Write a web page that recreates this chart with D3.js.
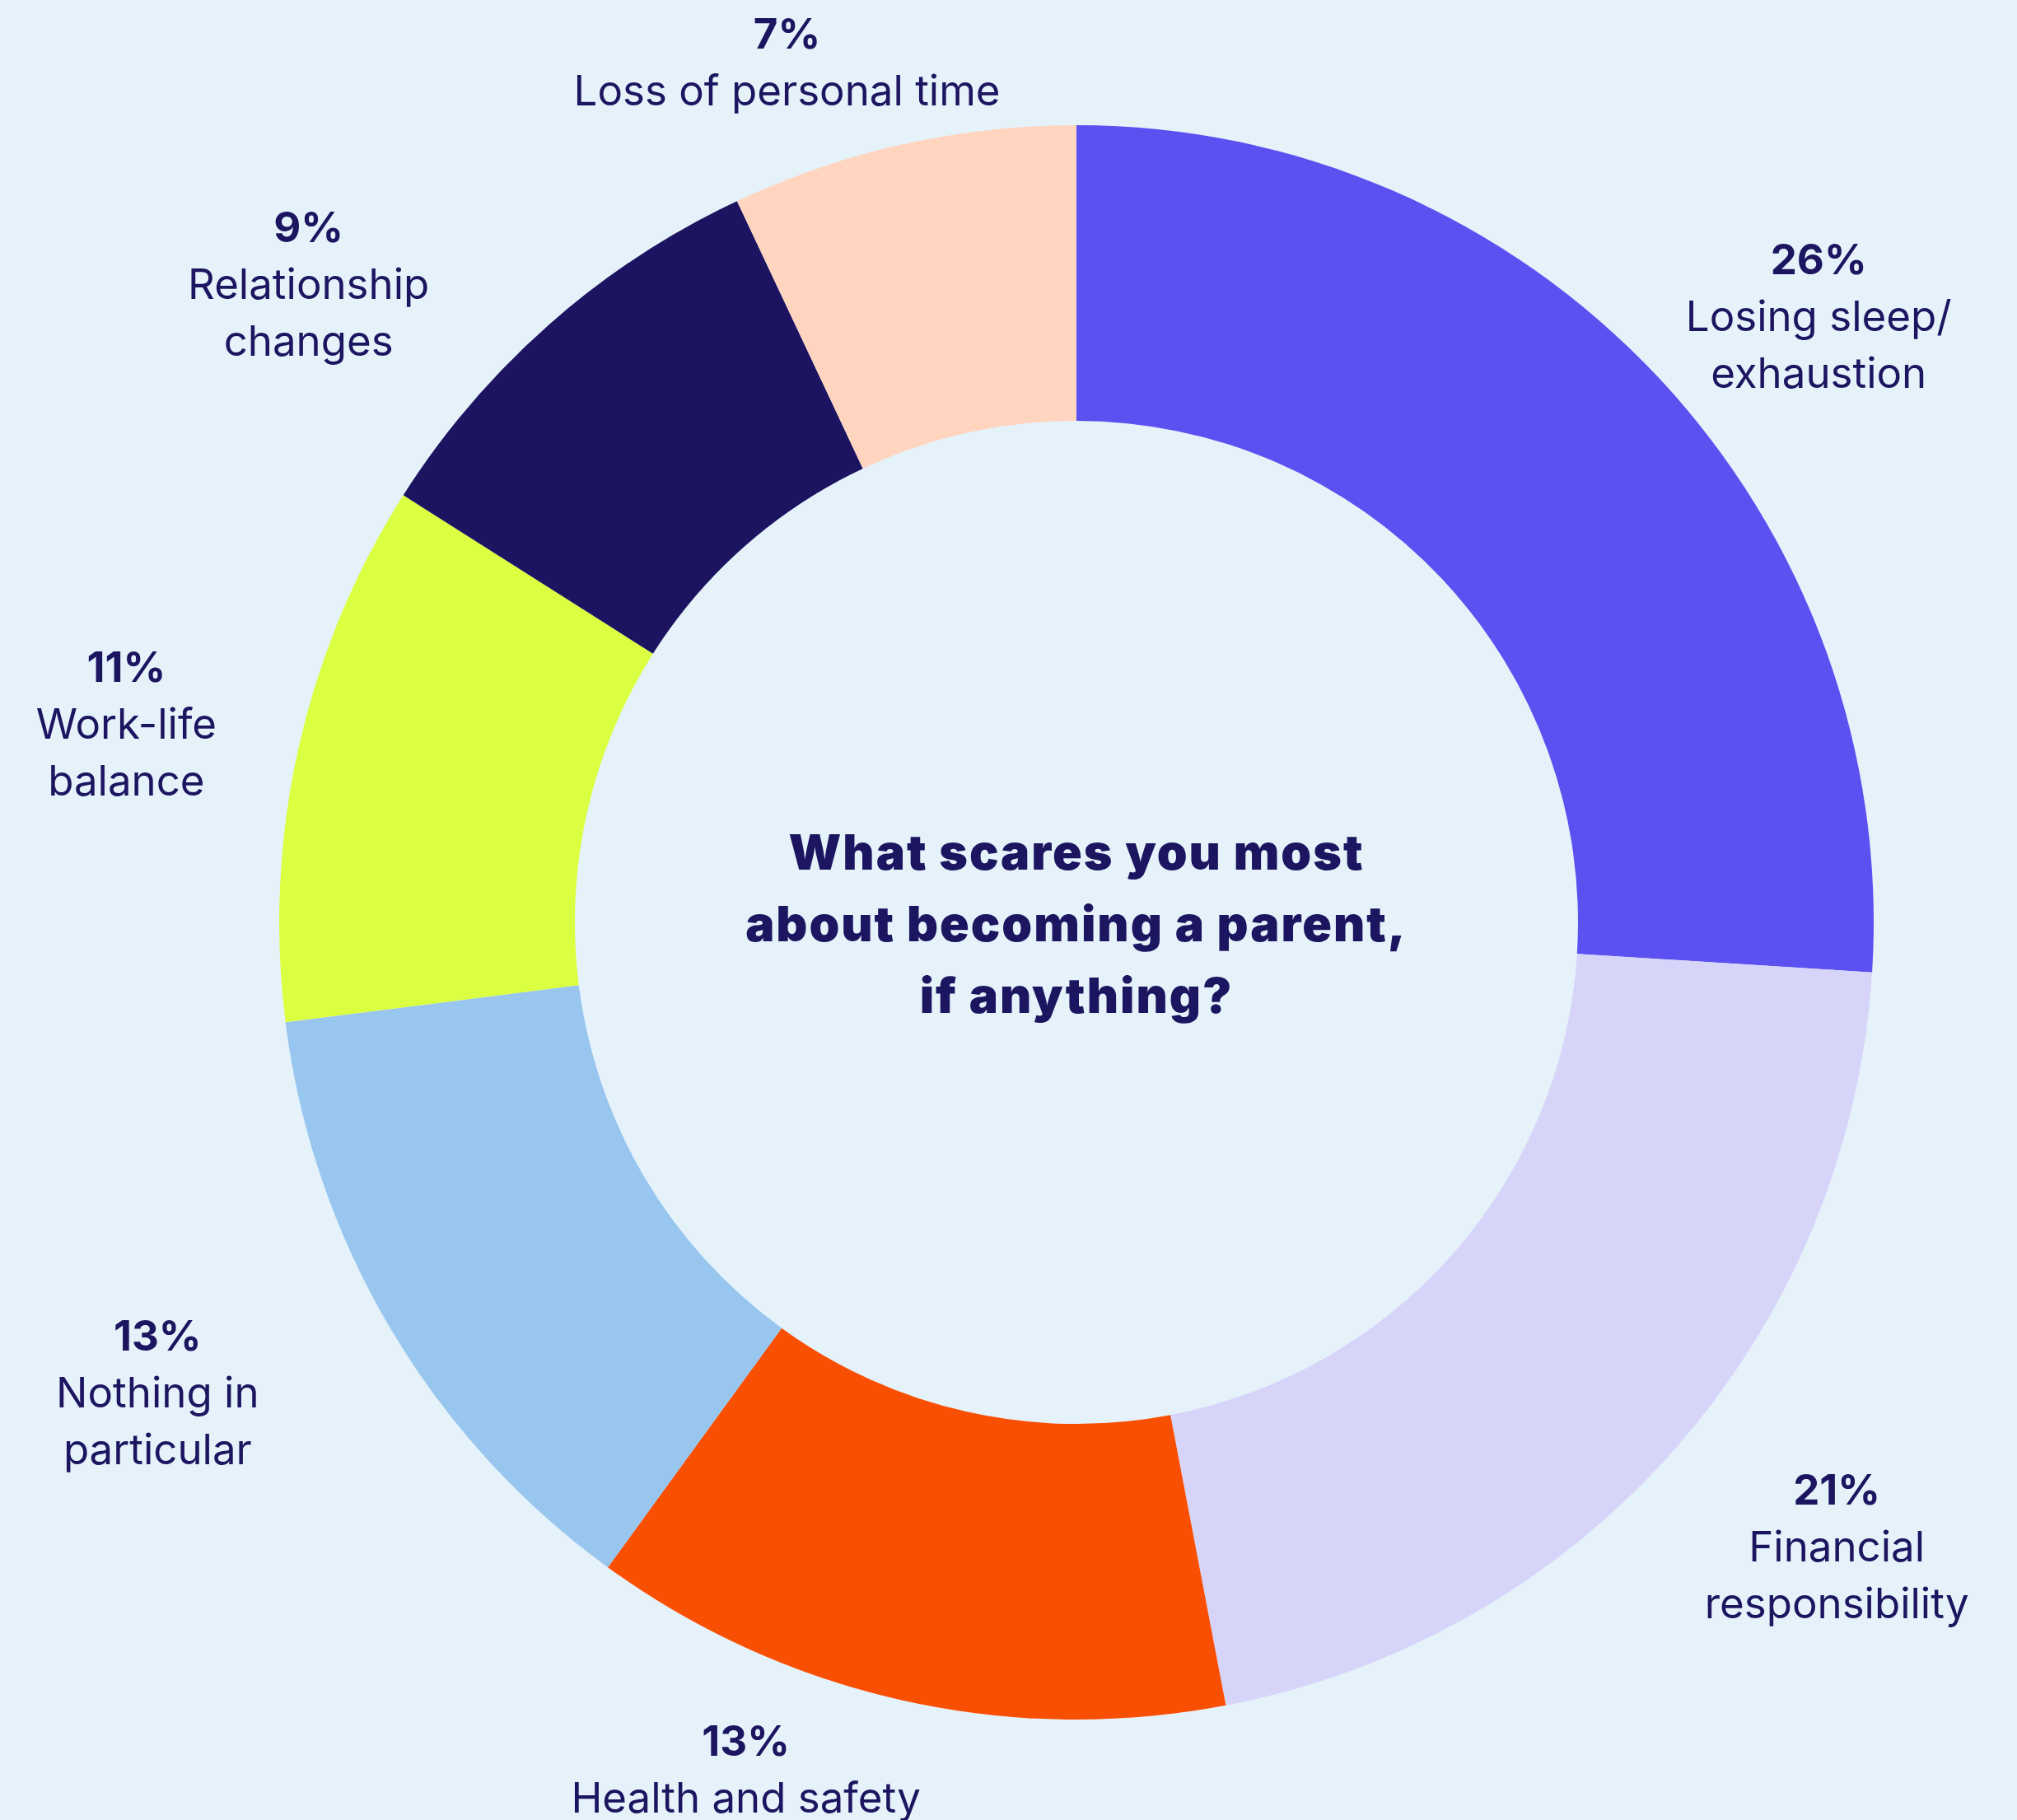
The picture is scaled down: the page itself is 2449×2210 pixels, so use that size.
<!DOCTYPE html>
<html>
<head>
<meta charset="utf-8">
<script src="https://cdn.jsdelivr.net/npm/d3@7"></script>
<style>
  html, body { margin: 0; padding: 0; background: #e5f2fa; }
  text { font-family: Inter, Lato, "Noto Sans", sans-serif; fill: #1c1560; }
</style>
</head>
<body>
<div id="chart"></div>
<script>
// Data
const categories = ["Losing sleep/|exhaustion", "Financial|responsibility", "Health and safety",
                    "Nothing in|particular", "Work-life|balance", "Relationship|changes", "Loss of personal time"];
const values = [26, 21, 13, 13, 11, 9, 7];
const colors = ["#5b50f0", "#d7d4f9", "#f94f03", "#98c6ef", "#dbff41", "#1c1460", "#ffd5c0"];
const titleLines = ["What scares you most", "about becoming a parent,", "if anything?"];

// Layout
const W = 2449, H = 2210;
const cx = 1307, cy = 1120;
const outerR = 968, innerR = 609, labelR = 1180;
const lineH = 69;
// nudges for label blocks (px), same order as categories
const labelShift = [[41, 21], [38, -73], [-144, -140], [-100, -81], [-2, -35], [-152, 59], [-94, 91]];

const svg = d3.select("#chart")
    .append("svg")
    .attr("width", W)
    .attr("height", H)
    .style("background-color", "#e5f2fa");

const g = svg.append("g")
    .attr("transform", `translate(${cx},${cy})`);

const pie = d3.pie().sort(null).value(d => d.value);
const data = categories.map((c, i) => ({ name: c, value: values[i], color: colors[i], shift: labelShift[i] }));
const arcs = pie(data);

const arc = d3.arc().innerRadius(innerR).outerRadius(outerR);

g.selectAll("path.slice")
    .data(arcs)
    .join("path")
    .attr("class", "slice")
    .attr("d", arc)
    .attr("fill", d => d.data.color);

// Labels
const labels = g.selectAll("g.label")
    .data(arcs)
    .join("g")
    .attr("class", "label")
    .attr("transform", d => {
        const a = (d.startAngle + d.endAngle) / 2;
        const x = Math.sin(a) * labelR + d.data.shift[0];
        const y = -Math.cos(a) * labelR + d.data.shift[1];
        return `translate(${x},${y})`;
    });

labels.append("text")
    .attr("text-anchor", "middle")
    .style("font-size", "51px")
    .style("font-weight", 700)
    .text(d => d.data.value + "%");

labels.each(function (d) {
    const lines = d.data.name.split("|");
    d3.select(this).selectAll("text.name")
        .data(lines)
        .join("text")
        .attr("class", "name")
        .attr("text-anchor", "middle")
        .attr("y", (l, i) => (i + 1) * lineH)
        .style("font-size", "51px")
        .text(l => l);
});

// Center title
g.selectAll("text.title")
    .data(titleLines)
    .join("text")
    .attr("class", "title")
    .attr("text-anchor", "middle")
    .attr("y", (d, i) => -64 + i * 87)
    .style("font-size", "59px")
    .style("font-weight", 900)
    .style("letter-spacing", "2px")
    .text(d => d);
</script>
</body>
</html>
